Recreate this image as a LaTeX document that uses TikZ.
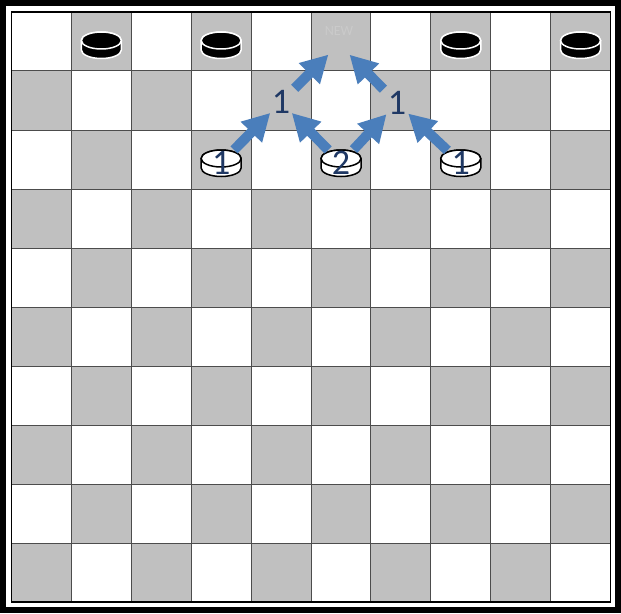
\documentclass[tikz,border=0pt]{standalone}
\usepackage{fontspec}
\setmainfont{Carlito}
\usetikzlibrary{arrows.meta}
\definecolor{sqgray}{HTML}{C0C0C0}
\definecolor{movblue}{HTML}{4A7EBB}
\definecolor{numblue}{HTML}{1F3864}
\definecolor{ghost}{HTML}{CACACA}
\newcommand{\drawdisc}[3]{%
  \filldraw[#3] (#1-20,#2+1) -- (#1-20,#2-8.5) arc[start angle=180,end angle=360,x radius=20,y radius=8.5] -- (#1+20,#2+1) arc[start angle=0,end angle=180,x radius=20,y radius=8.5] -- cycle;
  \draw[#3] (#1,#2+1) ellipse[x radius=20,y radius=8.5];
}
\begin{document}
\begin{tikzpicture}[x=0.02cm,y=0.02cm,
    blackdisc/.style={fill=black,draw=white,line width=0.3mm},
    whitedisc/.style={fill=white,draw=black,line width=0.3mm},
    num/.style={circle,inner sep=0pt,text=numblue,font=\fontsize{20.5}{22}\selectfont},
    move/.style={draw=movblue,line width=2mm,-{Triangle[length=5.4mm,width=5.6mm]}},
    gridline/.style={draw=black!70,line width=0.2mm}]
\useasboundingbox (0,0) rectangle (621,613);
\draw[line width=1.2mm] (3,3) rectangle (618,610);
\foreach \r in {0,...,9}{
  \pgfmathtruncatemacro\s{mod(\r+1,2)}
  \foreach \k in {0,...,4}
    \fill[sqgray] ({11.5+59.9*(\s+2*\k)},{601-59*\r}) rectangle ++(59.9,-59);
}
\foreach \i in {1,...,9}{
  \draw[gridline] ({11.5+59.9*\i},11) -- ++(0,590);
  \draw[gridline] (11.5,{11+59*\i}) -- ++(599,0);
}
\draw[line width=0.3mm] (11.5,11) rectangle (610.5,601);
\foreach \c in {101.35,221.15,460.75,580.55}
  \drawdisc{\c}{571.5}{blackdisc};
\foreach \c in {221.15,341,460.75}
  \drawdisc{\c}{453.5}{whitedisc};
\node[text=ghost,font=\fontsize{8}{9}\selectfont](new) at (339,582) {NEW};
\coordinate (goal) at (339,569);
\node[num,minimum size=7.2mm](w3) at (221.15,450) {1};
\node[num,minimum size=7.2mm](w5) at (341,450) {2};
\node[num,minimum size=7.2mm](w7) at (460.75,450) {1};
\node[num,minimum size=6mm](m1) at (281,511) {1};
\node[num,minimum size=6mm](m2) at (397,510) {1};
\draw[move] (w3) -- (m1);
\draw[move] (w5) -- (m1);
\draw[move] (w5) -- (m2);
\draw[move] (w7) -- (m2);
\draw[move,shorten <=0.8mm,shorten >=3mm] (m1) -- (goal);
\draw[move,shorten <=0.8mm,shorten >=3mm] (m2) -- (goal);
\end{tikzpicture}
\end{document}
